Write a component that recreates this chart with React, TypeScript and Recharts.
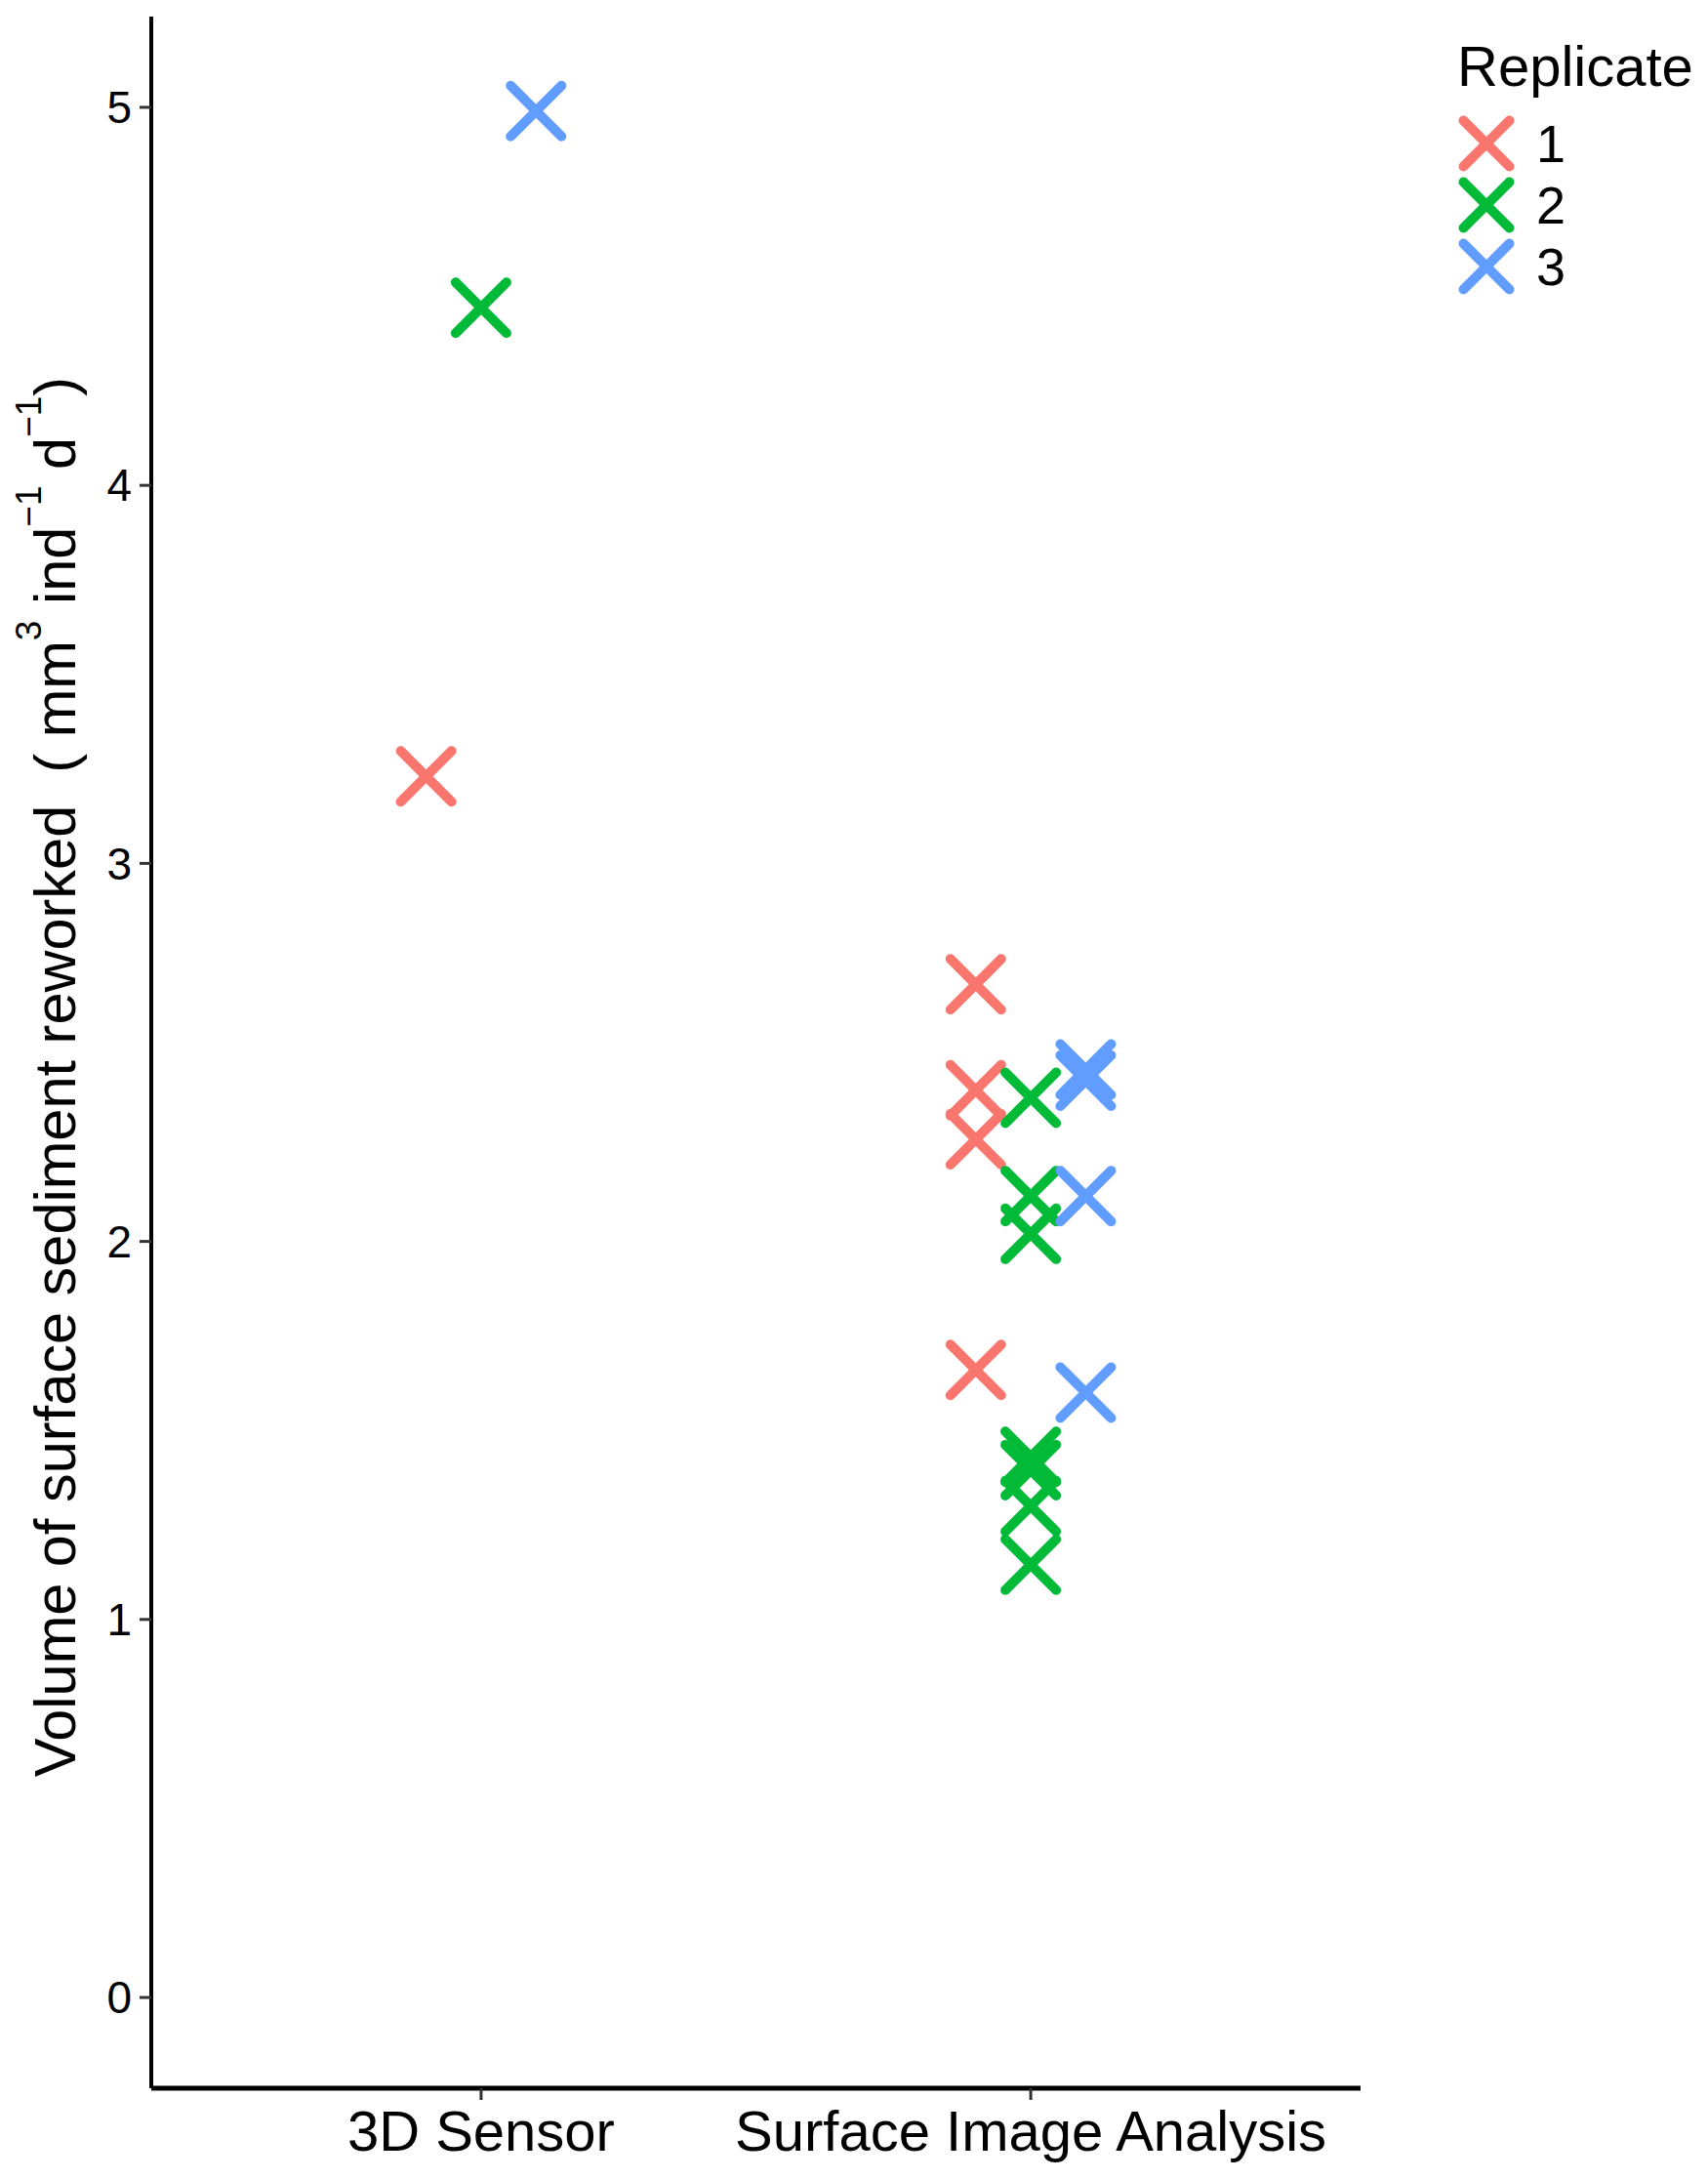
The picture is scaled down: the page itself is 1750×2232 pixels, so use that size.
import { ScatterChart, Scatter, XAxis, YAxis, Legend, Label } from "recharts";

const FONT = "'Liberation Sans', Arial, sans-serif";

const categories = ["3D Sensor", "Surface Image Analysis"];
const replicates = ["1", "2", "3"];
const colors = ["#F8766D", "#00BA38", "#619CFF"];
const dodge = [-0.1, 0, 0.1];
const yTicks = [0, 1, 2, 3, 4, 5];

// values, per replicate and method
const rep1Sensor = [3.23];
const rep1Image = [2.68, 2.4, 2.27, 1.66];
const rep2Sensor = [4.47];
const rep2Image = [2.38, 2.12, 2.02, 1.43, 1.395, 1.3, 1.145];
const rep3Sensor = [4.99];
const rep3Image = [2.455, 2.425, 2.12, 1.6];

function toPoints(sensor: number[], image: number[], offset: number) {
  return [
    ...sensor.map((y) => ({ x: 1 + offset, y })),
    ...image.map((y) => ({ x: 2 + offset, y })),
  ];
}

const series = [
  toPoints(rep1Sensor, rep1Image, dodge[0]),
  toPoints(rep2Sensor, rep2Image, dodge[1]),
  toPoints(rep3Sensor, rep3Image, dodge[2]),
];

const makeCross = (color: string) => (props: any) => {
  const { cx, cy } = props;
  if (cx == null || cy == null) return <g />;
  const h = 26;
  return (
    <g stroke={color} strokeWidth={10} strokeLinecap="round">
      <line x1={cx - h} y1={cy - h} x2={cx + h} y2={cy + h} />
      <line x1={cx - h} y1={cy + h} x2={cx + h} y2={cy - h} />
    </g>
  );
};

function renderLegend(props: any) {
  const payload = props.payload ?? [];
  return (
    <svg width={270} height={320}>
      <text x={13} y={88} fontSize={58} fontFamily={FONT} fill="#000">
        Replicate
      </text>
      {payload.map((entry: any, i: number) => {
        const cy = 147 + i * 63;
        const c = colors[i] ?? entry.color;
        const h = 23.5;
        return (
          <g key={i}>
            <g stroke={c} strokeWidth={10} strokeLinecap="round">
              <line x1={43 - h} y1={cy - h} x2={43 + h} y2={cy + h} />
              <line x1={43 - h} y1={cy + h} x2={43 + h} y2={cy - h} />
            </g>
            <text
              x={94}
              y={cy}
              dominantBaseline="central"
              fontSize={54}
              fontFamily={FONT}
              fill="#000"
            >
              {entry.value}
            </text>
          </g>
        );
      })}
    </svg>
  );
}

function YTitle() {
  const x = 77;
  const y = 1103;
  return (
    <text
      x={x}
      y={y}
      transform={`rotate(-90 ${x} ${y})`}
      textAnchor="middle"
      fontSize={59.5}
      fontFamily={FONT}
      fill="#000"
    >
      Volume of surface sediment reworked{"\u00a0\u00a0(\u00a0mm"}
      <tspan dy={-35} fontSize={37}>3</tspan>
      <tspan dy={35}>{"\u00a0ind"}</tspan>
      <tspan dy={-35} fontSize={37}>{"\u22121"}</tspan>
      <tspan dy={35}>{"\u00a0d"}</tspan>
      <tspan dy={-35} fontSize={37}>{"\u22121"}</tspan>
      <tspan dy={35}>)</tspan>
    </text>
  );
}

export default function App() {
  return (
    <div
      style={{
        position: "absolute",
        left: 0,
        top: 0,
        width: 1750,
        height: 2232,
        background: "#fff",
      }}
    >
      <ScatterChart
        width={1750}
        height={2232}
        margin={{ top: 17, right: 86, bottom: 0, left: 0 }}
      >
        <XAxis
          type="number"
          dataKey="x"
          domain={[0.4, 2.6]}
          ticks={[1, 2]}
          allowDataOverflow
          tickFormatter={(v: number) => categories[Math.round(v) - 1] ?? ""}
          height={93}
          tickSize={12}
          tickMargin={11}
          axisLine={{ stroke: "#000", strokeWidth: 5 }}
          tickLine={{ stroke: "#333", strokeWidth: 3 }}
          tick={{ fill: "#000", fontSize: 58, fontFamily: FONT }}
        />
        <YAxis
          type="number"
          dataKey="y"
          domain={[-0.24, 5.24]}
          ticks={yTicks}
          allowDataOverflow
          width={155}
          tickSize={12}
          tickMargin={8}
          axisLine={{ stroke: "#000", strokeWidth: 4 }}
          tickLine={{ stroke: "#333", strokeWidth: 3 }}
          tick={{ fill: "#000", fontSize: 46, fontFamily: FONT }}
        >
          <Label content={<YTitle />} />
        </YAxis>
        <Legend
          layout="vertical"
          align="right"
          verticalAlign="top"
          content={renderLegend}
          wrapperStyle={{ left: 1480, top: 0, width: 270, height: 320 }}
        />
        {series.map((pts, i) => (
          <Scatter
            key={replicates[i]}
            name={replicates[i]}
            data={pts}
            fill={colors[i]}
            stroke={colors[i]}
            shape={makeCross(colors[i])}
            isAnimationActive={false}
          />
        ))}
      </ScatterChart>
    </div>
  );
}
